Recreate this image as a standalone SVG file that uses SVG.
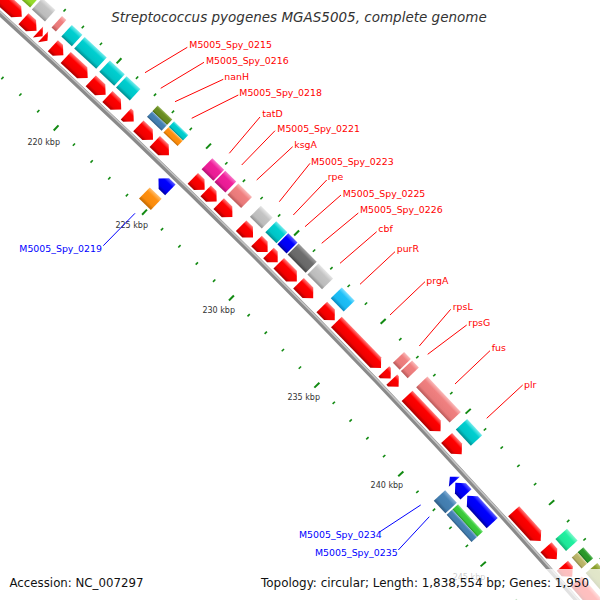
<svg xmlns="http://www.w3.org/2000/svg" xmlns:xlink="http://www.w3.org/1999/xlink" width="600" height="600" viewBox="0 0 600 600">
<defs>
<linearGradient id="gRed" x1="0" y1="0" x2="0" y2="1"><stop offset="0" stop-color="#ff8080"/><stop offset=".28" stop-color="#ff0000"/><stop offset=".75" stop-color="#f00000"/><stop offset="1" stop-color="#a80000"/></linearGradient>
<linearGradient id="gCyan" x1="0" y1="0" x2="0" y2="1"><stop offset="0" stop-color="#78ecec"/><stop offset=".28" stop-color="#00cfd0"/><stop offset=".75" stop-color="#00c4c6"/><stop offset="1" stop-color="#008e90"/></linearGradient>
<linearGradient id="gLgray" x1="0" y1="0" x2="0" y2="1"><stop offset="0" stop-color="#e6e6e6"/><stop offset=".28" stop-color="#c4c4c4"/><stop offset=".75" stop-color="#bcbcbc"/><stop offset="1" stop-color="#8e8e8e"/></linearGradient>
<linearGradient id="gDgray" x1="0" y1="0" x2="0" y2="1"><stop offset="0" stop-color="#a0a0a0"/><stop offset=".28" stop-color="#6e6e6e"/><stop offset=".75" stop-color="#686868"/><stop offset="1" stop-color="#444"/></linearGradient>
<linearGradient id="gSalmon" x1="0" y1="0" x2="0" y2="1"><stop offset="0" stop-color="#fababa"/><stop offset=".28" stop-color="#f08080"/><stop offset=".75" stop-color="#e87a7a"/><stop offset="1" stop-color="#b85858"/></linearGradient>
<linearGradient id="gMag" x1="0" y1="0" x2="0" y2="1"><stop offset="0" stop-color="#f878c8"/><stop offset=".28" stop-color="#f0209a"/><stop offset=".75" stop-color="#e81c94"/><stop offset="1" stop-color="#b01070"/></linearGradient>
<linearGradient id="gOlive" x1="0" y1="0" x2="0" y2="1"><stop offset="0" stop-color="#96b458"/><stop offset=".28" stop-color="#6b8e23"/><stop offset=".75" stop-color="#668820"/><stop offset="1" stop-color="#466414"/></linearGradient>
<linearGradient id="gSteel" x1="0" y1="0" x2="0" y2="1"><stop offset="0" stop-color="#84aed4"/><stop offset=".28" stop-color="#4682b4"/><stop offset=".75" stop-color="#427cad"/><stop offset="1" stop-color="#2c5a82"/></linearGradient>
<linearGradient id="gOrange" x1="0" y1="0" x2="0" y2="1"><stop offset="0" stop-color="#ffc070"/><stop offset=".28" stop-color="#ff9010"/><stop offset=".75" stop-color="#f88a0c"/><stop offset="1" stop-color="#c06800"/></linearGradient>
<linearGradient id="gBlue" x1="0" y1="0" x2="0" y2="1"><stop offset="0" stop-color="#6060ff"/><stop offset=".28" stop-color="#0000ff"/><stop offset=".75" stop-color="#0000f0"/><stop offset="1" stop-color="#0000a0"/></linearGradient>
<linearGradient id="gSky" x1="0" y1="0" x2="0" y2="1"><stop offset="0" stop-color="#80e0ff"/><stop offset=".28" stop-color="#1ec0f8"/><stop offset=".75" stop-color="#1ab8f0"/><stop offset="1" stop-color="#0888be"/></linearGradient>
<linearGradient id="gLime" x1="0" y1="0" x2="0" y2="1"><stop offset="0" stop-color="#c8f280"/><stop offset=".28" stop-color="#9be22d"/><stop offset=".75" stop-color="#94d82a"/><stop offset="1" stop-color="#6ea41c"/></linearGradient>
<linearGradient id="gAqua" x1="0" y1="0" x2="0" y2="1"><stop offset="0" stop-color="#80f8cc"/><stop offset=".28" stop-color="#20f0a0"/><stop offset=".75" stop-color="#1ee698"/><stop offset="1" stop-color="#10b274"/></linearGradient>
<linearGradient id="gKhaki" x1="0" y1="0" x2="0" y2="1"><stop offset="0" stop-color="#dcd8a4"/><stop offset=".28" stop-color="#bdb76b"/><stop offset=".75" stop-color="#b6b066"/><stop offset="1" stop-color="#8a8648"/></linearGradient>
<linearGradient id="gGreen" x1="0" y1="0" x2="0" y2="1"><stop offset="0" stop-color="#88e888"/><stop offset=".28" stop-color="#3ccc3c"/><stop offset=".75" stop-color="#38c438"/><stop offset="1" stop-color="#229026"/></linearGradient>
<linearGradient id="gDgreen" x1="0" y1="0" x2="0" y2="1"><stop offset="0" stop-color="#6cc06c"/><stop offset=".28" stop-color="#2a9a2a"/><stop offset=".75" stop-color="#289428"/><stop offset="1" stop-color="#1a6a1a"/></linearGradient>
<linearGradient id="gOlive2" x1="0" y1="0" x2="0" y2="1"><stop offset="0" stop-color="#b8c870"/><stop offset=".28" stop-color="#8a9e2c"/><stop offset=".75" stop-color="#84982a"/><stop offset="1" stop-color="#62721c"/></linearGradient>
<rect id="tmi" x="-0.8" y="-7141.6" width="1.6" height="3.2"/>
<rect id="tMi" x="-1" y="-7143.5" width="2" height="7"/>
<rect id="tmo" x="-0.8" y="-7233.6" width="1.6" height="3.2"/>
<rect id="tMo" x="-1" y="-7235.5" width="2" height="7"/>
</defs>
<style>
.red{fill:url(#gRed)}.cyan{fill:url(#gCyan)}.lgray{fill:url(#gLgray)}.dgray{fill:url(#gDgray)}
.salmon{fill:url(#gSalmon)}.mag{fill:url(#gMag)}.olive{fill:url(#gOlive)}.steel{fill:url(#gSteel)}
.orange{fill:url(#gOrange)}.blue{fill:url(#gBlue)}.sky{fill:url(#gSky)}.lime{fill:url(#gLime)}
.aqua{fill:url(#gAqua)}.khaki{fill:url(#gKhaki)}.green{fill:url(#gGreen)}.dgreen{fill:url(#gDgreen)}.olive2{fill:url(#gOlive2)}
.ticks{fill:#128a12}
.tk{font-family:"DejaVu Sans",sans-serif;font-size:8px;fill:#333;text-anchor:middle}
.lbl{font-family:"DejaVu Sans",sans-serif;font-size:9.4px}
.lr{fill:#ff0000}.lb{fill:#0000ff}
.cr{stroke:#ff0000;stroke-width:1;fill:none}.cb{stroke:#0000ff;stroke-width:1;fill:none}
.title{font-family:"DejaVu Sans",sans-serif;font-style:italic;font-size:13.5px;fill:#333;text-anchor:middle}
.info{font-family:"DejaVu Sans",sans-serif;font-size:11.8px;fill:#111}
</style>
<rect width="600" height="600" fill="#fff"/>
<g transform="translate(-4827 5337)">
<g id="ticks" class="ticks">
<use href="#tmi" transform="rotate(41.974)"/><use href="#tmo" transform="rotate(41.974)"/>
<use href="#tMi" transform="rotate(42.17)"/><use href="#tMo" transform="rotate(42.17)"/>
<use href="#tmi" transform="rotate(42.366)"/><use href="#tmo" transform="rotate(42.366)"/>
<use href="#tmi" transform="rotate(42.562)"/><use href="#tmo" transform="rotate(42.562)"/>
<use href="#tmi" transform="rotate(42.758)"/><use href="#tmo" transform="rotate(42.758)"/>
<use href="#tmi" transform="rotate(42.954)"/><use href="#tmo" transform="rotate(42.954)"/>
<use href="#tMi" transform="rotate(43.15)"/><use href="#tMo" transform="rotate(43.15)"/>
<use href="#tmi" transform="rotate(43.346)"/><use href="#tmo" transform="rotate(43.346)"/>
<use href="#tmi" transform="rotate(43.542)"/><use href="#tmo" transform="rotate(43.542)"/>
<use href="#tmi" transform="rotate(43.738)"/><use href="#tmo" transform="rotate(43.738)"/>
<use href="#tmi" transform="rotate(43.934)"/><use href="#tmo" transform="rotate(43.934)"/>
<use href="#tMi" transform="rotate(44.13)"/><use href="#tMo" transform="rotate(44.13)"/>
<use href="#tmi" transform="rotate(44.326)"/><use href="#tmo" transform="rotate(44.326)"/>
<use href="#tmi" transform="rotate(44.522)"/><use href="#tmo" transform="rotate(44.522)"/>
<use href="#tmi" transform="rotate(44.718)"/><use href="#tmo" transform="rotate(44.718)"/>
<use href="#tmi" transform="rotate(44.914)"/><use href="#tmo" transform="rotate(44.914)"/>
<use href="#tMi" transform="rotate(45.11)"/><use href="#tMo" transform="rotate(45.11)"/>
<use href="#tmi" transform="rotate(45.306)"/><use href="#tmo" transform="rotate(45.306)"/>
<use href="#tmi" transform="rotate(45.502)"/><use href="#tmo" transform="rotate(45.502)"/>
<use href="#tmi" transform="rotate(45.698)"/><use href="#tmo" transform="rotate(45.698)"/>
<use href="#tmi" transform="rotate(45.894)"/><use href="#tmo" transform="rotate(45.894)"/>
<use href="#tMi" transform="rotate(46.09)"/><use href="#tMo" transform="rotate(46.09)"/>
<use href="#tmi" transform="rotate(46.286)"/><use href="#tmo" transform="rotate(46.286)"/>
<use href="#tmi" transform="rotate(46.482)"/><use href="#tmo" transform="rotate(46.482)"/>
<use href="#tmi" transform="rotate(46.678)"/><use href="#tmo" transform="rotate(46.678)"/>
<use href="#tmi" transform="rotate(46.874)"/><use href="#tmo" transform="rotate(46.874)"/>
<use href="#tMi" transform="rotate(47.07)"/><use href="#tMo" transform="rotate(47.07)"/>
<use href="#tmi" transform="rotate(47.266)"/><use href="#tmo" transform="rotate(47.266)"/>
<use href="#tmi" transform="rotate(47.462)"/><use href="#tmo" transform="rotate(47.462)"/>
<use href="#tmi" transform="rotate(47.658)"/><use href="#tmo" transform="rotate(47.658)"/>
<use href="#tmi" transform="rotate(47.854)"/><use href="#tmo" transform="rotate(47.854)"/>
<use href="#tMi" transform="rotate(48.05)"/><use href="#tMo" transform="rotate(48.05)"/>
<use href="#tmi" transform="rotate(48.246)"/><use href="#tmo" transform="rotate(48.246)"/>
<use href="#tmi" transform="rotate(48.442)"/><use href="#tmo" transform="rotate(48.442)"/>
<use href="#tmi" transform="rotate(48.638)"/><use href="#tmo" transform="rotate(48.638)"/>
<use href="#tmi" transform="rotate(48.834)"/><use href="#tmo" transform="rotate(48.834)"/>
<use href="#tMi" transform="rotate(49.03)"/><use href="#tMo" transform="rotate(49.03)"/>
<use href="#tmi" transform="rotate(49.226)"/><use href="#tmo" transform="rotate(49.226)"/>
</g>
<g id="backbone">
<circle r="7186" fill="none" stroke="#8a8a8a" stroke-width="5"/>
<circle r="7187.3" fill="none" stroke="#c4c4c4" stroke-width="1.6"/>
</g>
<g id="features">
<g id="gene-213" transform="rotate(41.778) translate(0 -7186)"><path class="red" d="M0-19.5H63.8L71.3-12L63.8-4.5H0Z"/><rect class="lime" x="0" y="-40" width="71.3" height="15.5"/></g>
<g id="gene-216" transform="rotate(42.366) translate(0 -7186)"><path class="red" d="M0-19.5H10.2L17.7-12L10.2-4.5H0Z"/><rect class="lgray" x="0" y="-40" width="17.7" height="15.5"/></g>
<g id="gene-216b" transform="rotate(42.5228) translate(0 -7186)"><path class="red" d="M0-19.5L6.2-12L0-4.5Z"/></g>
<g id="gene-217" transform="rotate(42.5777) translate(0 -7186)"><path class="red" d="M0-19.5L5.9-12L0-4.5Z"/><rect class="salmon" x="0" y="-40" width="5.9" height="15.5"/></g>
<g id="gene-217b" transform="rotate(42.6835) translate(0 -7186)"><path class="red" d="M0-19.5H6.8L14.3-12L6.8-4.5H0Z"/><rect class="cyan" x="0" y="-40" width="14.3" height="15.5"/></g>
<g id="gene-218" transform="rotate(42.8227) translate(0 -7186)"><path class="red" d="M0-19.5H22.5L30-12L22.5-4.5H0Z"/><rect class="cyan" x="0" y="-40" width="30" height="15.5"/></g>
<g id="gene-219" transform="rotate(43.0951) translate(0 -7186)"><path class="red" d="M0-19.5H12.9L20.4-12L12.9-4.5H0Z"/><rect class="cyan" x="0" y="-40" width="20.4" height="15.5"/></g>
<g id="M5005_Spy_0215" transform="rotate(43.2774) translate(0 -7186)"><path class="red" d="M0-19.5H11.4L18.9-12L11.4-4.5H0Z"/><rect class="cyan" x="0" y="-40" width="18.9" height="15.5"/></g>
<g id="M5005_Spy_0216" transform="rotate(43.4793) translate(0 -7186)"><path class="red" d="M0-19.5H3.3L10.8-12L3.3-4.5H0Z"/></g>
<g id="nanH" transform="rotate(43.6165) translate(0 -7186)"><path class="red" d="M0-19.5H12.7L20.2-12L12.7-4.5H0Z"/><rect class="olive" x="0" y="-40" width="20.2" height="7.75"/><rect class="steel" x="0" y="-32.25" width="20.2" height="7.75"/></g>
<g id="M5005_Spy_0218" transform="rotate(43.7968) translate(0 -7186)"><path class="red" d="M0-19.5H12.2L19.7-12L12.2-4.5H0Z"/><rect class="cyan" x="0" y="-40" width="19.7" height="7.75"/><rect class="orange" x="0" y="-32.25" width="19.7" height="7.75"/></g>
<g id="M5005_Spy_0219" transform="rotate(44.0222) translate(0 -7186)"><path class="blue" d="M0 12L7.5 4.5H16.5V19.5H7.5Z"/><rect class="orange" x="0" y="24.5" width="16.5" height="15.5"/></g>
<g id="tatD" transform="rotate(44.2182) translate(0 -7186)"><path class="red" d="M0-19.5H9L16.5-12L9-4.5H0Z"/><rect class="mag" x="0" y="-40" width="16.5" height="15.5"/></g>
<g id="M5005_Spy_0221" transform="rotate(44.3613) translate(0 -7186)"><path class="red" d="M0-19.5H7.8L15.3-12L7.8-4.5H0Z"/><rect class="mag" x="0" y="-40" width="15.3" height="15.5"/></g>
<g id="ksgA" transform="rotate(44.5063) translate(0 -7186)"><path class="red" d="M0-19.5H11.7L19.2-12L11.7-4.5H0Z"/><rect class="salmon" x="0" y="-40" width="19.2" height="15.5"/></g>
<g id="M5005_Spy_0223" transform="rotate(44.7572) translate(0 -7186)"><path class="red" d="M0-19.5H9.2L16.7-12L9.2-4.5H0Z"/><rect class="lgray" x="0" y="-40" width="16.7" height="15.5"/></g>
<g id="rpe" transform="rotate(44.9297) translate(0 -7186)"><path class="red" d="M0-19.5H8.2L15.7-12L8.2-4.5H0Z"/><rect class="cyan" x="0" y="-40" width="15.7" height="15.5"/></g>
<g id="M5005_Spy_0225" transform="rotate(45.0649) translate(0 -7186)"><path class="red" d="M0-19.5H5.5L13-12L5.5-4.5H0Z"/><rect class="blue" x="0" y="-40" width="13" height="15.5"/></g>
<g id="M5005_Spy_0226" transform="rotate(45.1806) translate(0 -7186)"><path class="red" d="M0-19.5H18.1L25.6-12L18.1-4.5H0Z"/><rect class="dgray" x="0" y="-40" width="25.6" height="15.5"/></g>
<g id="cbf" transform="rotate(45.404) translate(0 -7186)"><path class="red" d="M0-19.5H13.4L20.9-12L13.4-4.5H0Z"/><rect class="lgray" x="0" y="-40" width="20.9" height="15.5"/></g>
<g id="purR" transform="rotate(45.6686) translate(0 -7186)"><path class="red" d="M0-19.5H11L18.5-12L11-4.5H0Z"/><rect class="sky" x="0" y="-40" width="18.5" height="15.5"/></g>
<g id="prgA" transform="rotate(45.8352) translate(0 -7186)"><path class="red" d="M0-19.5H56.5L64-12L56.5-4.5H0Z"/></g>
<g id="rpsL" transform="rotate(46.3801) translate(0 -7186)"><path class="red" d="M0-19.5H2.3L9.8-12L2.3-4.5H0Z"/><rect class="salmon" x="0" y="-40" width="9.8" height="15.5"/></g>
<g id="rpsG" transform="rotate(46.4722) translate(0 -7186)"><path class="red" d="M0-19.5H2.3L9.8-12L2.3-4.5H0Z"/><rect class="salmon" x="0" y="-40" width="9.8" height="15.5"/></g>
<g id="fus" transform="rotate(46.6486) translate(0 -7186)"><path class="red" d="M0-19.5H41.2L48.7-12L41.2-4.5H0Z"/><rect class="salmon" x="0" y="-40" width="48.7" height="15.5"/></g>
<g id="plr" transform="rotate(47.1092) translate(0 -7186)"><path class="red" d="M0-19.5H14.6L22.1-12L14.6-4.5H0Z"/><rect class="cyan" x="0" y="-40" width="22.1" height="15.5"/></g>
<g id="M5005_Spy_0234" transform="rotate(47.3542) translate(0 -7186)"><path class="blue" d="M0 12L6.6 4.5V19.5Z"/></g>
<g id="M5005_Spy_0235" transform="rotate(47.4189) translate(0 -7186)"><path class="blue" d="M0 12L7.5 4.5H15.7V19.5H7.5Z"/></g>
<g id="cog-0235" transform="rotate(47.4071) translate(0 -7186)"><rect class="steel" x="0" y="24.5" width="17.2" height="15.5"/></g>
<g id="gene-242" transform="rotate(47.56) translate(0 -7186)"><path class="blue" d="M0 12L7.5 4.5H36.9V19.5H7.5Z"/><rect class="green" x="0" y="24.5" width="36.9" height="7.75"/><rect class="steel" x="0" y="32.25" width="36.9" height="7.75"/></g>
<g id="gene-244" transform="rotate(47.8991) translate(0 -7186)"><path class="red" d="M0-19.5H32.8L40.3-12L32.8-4.5H0Z"/></g>
<g id="gene-246" transform="rotate(48.2852) translate(0 -7186)"><path class="red" d="M0-19.5H8.5L16-12L8.5-4.5H0Z"/><rect class="aqua" x="0" y="-40" width="16" height="15.5"/></g>
<g id="gene-247" transform="rotate(48.4812) translate(0 -7186)"><path class="red" d="M0-19.5H7.3L14.8-12L7.3-4.5H0Z"/><rect class="dgreen" x="0" y="-40" width="14.8" height="7.75"/><rect class="khaki" x="0" y="-32.25" width="14.8" height="7.75"/></g>
<g id="gene-248" transform="rotate(48.6478) translate(0 -7186)"><path class="red" d="M0-19.5H35.6L43.1-12L35.6-4.5H0Z"/><rect class="olive2" x="0" y="-40" width="43.1" height="15.5"/></g>
</g>
</g>
<g id="tick-labels" class="tk">
<text x="43.7" y="144.5">220 kbp</text>
<text x="131.7" y="228">225 kbp</text>
<text x="218.7" y="312.8">230 kbp</text>
<text x="303.7" y="399.8">235 kbp</text>
<text x="386.9" y="487.8">240 kbp</text>
<text x="469" y="579.5">245 kbp</text>
</g>
<g id="connectors">
<path class="cr" d="M187.3 47.3L145 72.7"/>
<path class="cr" d="M204 62.3L160.7 88.3"/>
<path class="cr" d="M223.3 79.3L175 101.7"/>
<path class="cr" d="M238.3 95L191.7 118.3"/>
<path class="cr" d="M260 117L229.3 153.3"/>
<path class="cr" d="M275 130.7L241.7 165"/>
<path class="cr" d="M292.7 146.7L256.7 180"/>
<path class="cr" d="M310 163.3L279.3 201.7"/>
<path class="cr" d="M326.7 180L293.3 215"/>
<path class="cr" d="M341 195L305 226.7"/>
<path class="cr" d="M358.3 213L321.7 243.3"/>
<path class="cr" d="M376.7 231.7L340 263.3"/>
<path class="cr" d="M395 251.7L360 284.3"/>
<path class="cr" d="M425 281.7L390 315"/>
<path class="cr" d="M450.7 309.3L419.3 346"/>
<path class="cr" d="M466.7 325L427.7 354.3"/>
<path class="cr" d="M490 350.7L455 384"/>
<path class="cr" d="M522.7 385L486.7 418.3"/>
<path class="cb" d="M103.3 245.7L135 213.3"/>
<path class="cb" d="M380 531.7L420.7 505"/>
<path class="cb" d="M398.3 550L429.3 516.7"/>
</g>
<g id="labels" class="lbl">
<text class="lr" x="189.3" y="47.5">M5005_Spy_0215</text>
<text class="lr" x="206" y="63.5">M5005_Spy_0216</text>
<text class="lr" x="224.3" y="80">nanH</text>
<text class="lr" x="239.3" y="95.5">M5005_Spy_0218</text>
<text class="lr" x="262.3" y="117.3">tatD</text>
<text class="lr" x="277.3" y="131.7">M5005_Spy_0221</text>
<text class="lr" x="294.3" y="148">ksgA</text>
<text class="lr" x="311" y="165.3">M5005_Spy_0223</text>
<text class="lr" x="327.7" y="179.5">rpe</text>
<text class="lr" x="342.7" y="196.7">M5005_Spy_0225</text>
<text class="lr" x="360" y="212.7">M5005_Spy_0226</text>
<text class="lr" x="378.3" y="231.7">cbf</text>
<text class="lr" x="396.7" y="251.7">purR</text>
<text class="lr" x="426.3" y="283.8">prgA</text>
<text class="lr" x="452.7" y="310">rpsL</text>
<text class="lr" x="468.3" y="326">rpsG</text>
<text class="lr" x="491.7" y="350.7">fus</text>
<text class="lr" x="524" y="387.7">plr</text>
<text class="lb" x="19.3" y="252.3">M5005_Spy_0219</text>
<text class="lb" x="299" y="537.7">M5005_Spy_0234</text>
<text class="lb" x="315" y="556">M5005_Spy_0235</text>
</g>
<text class="title" x="299" y="22">Streptococcus pyogenes MGAS5005, complete genome</text>
<rect x="0" y="569" width="600" height="31" fill="#fff" fill-opacity="0.75"/>
<text class="info" x="9.5" y="587" textLength="134" lengthAdjust="spacingAndGlyphs">Accession: NC_007297</text>
<text class="info" x="261" y="587" textLength="328" lengthAdjust="spacingAndGlyphs">Topology: circular; Length: 1,838,554 bp; Genes: 1,950</text>
</svg>
